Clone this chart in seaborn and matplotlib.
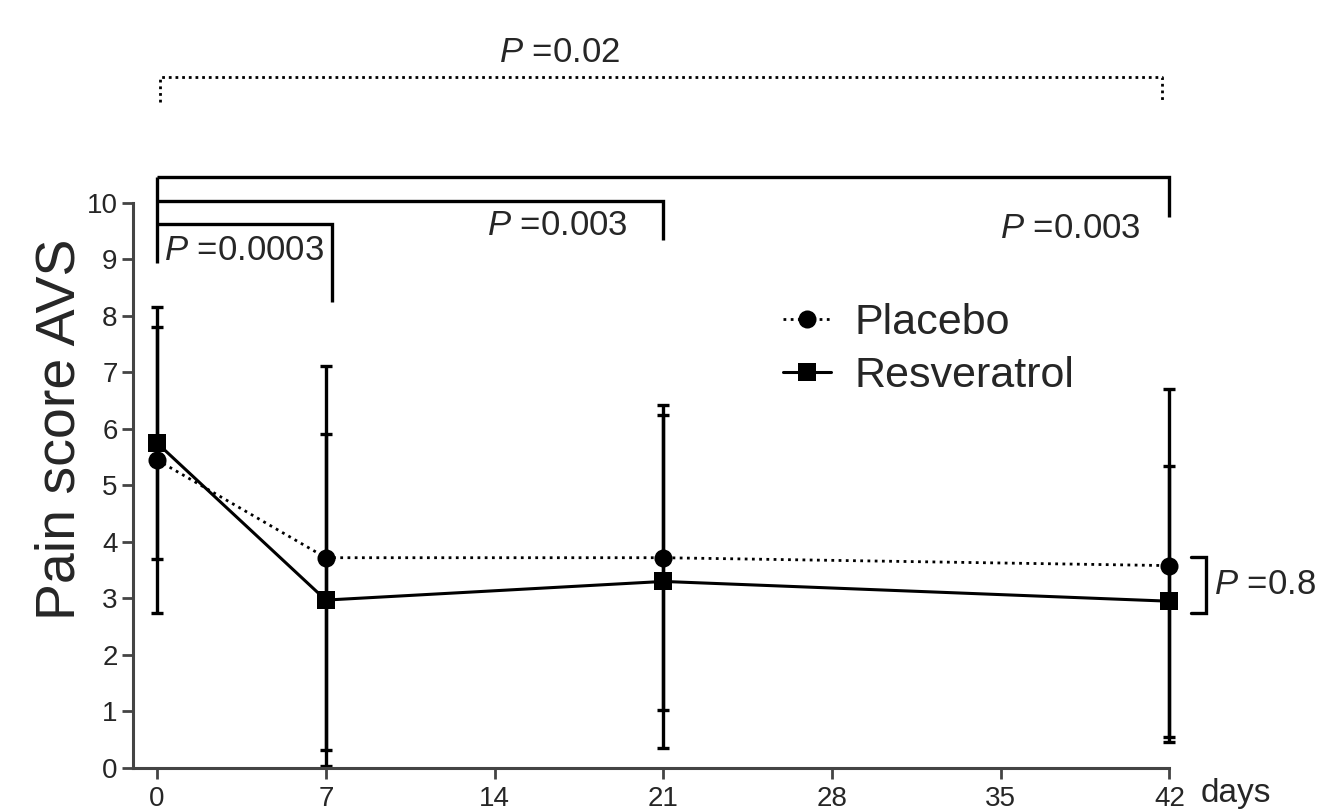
#################################################################################################
#   Required Header Files
#################################################################################################
import pandas as pd
import matplotlib
matplotlib.use("Agg")
import matplotlib.pyplot as plt
import seaborn as sns

#################################################################################################
#   Data
#################################################################################################
days = [0, 7, 21, 42]
groups = ["Placebo", "Resveratrol"]

placebo_mean = [5.45, 3.72, 3.72, 3.58]
placebo_sd = [2.70, 3.40, 2.70, 3.13]

resveratrol_mean = [5.75, 2.97, 3.30, 2.95]
resveratrol_sd = [2.05, 2.94, 2.95, 2.40]

x_ticks = [0, 7, 14, 21, 28, 35, 42]
y_ticks = [0, 1, 2, 3, 4, 5, 6, 7, 8, 9, 10]

# comparisons drawn as brackets above the plot: (start day, end day, label)
day_brackets = [(0, 7, "0.0003"), (0, 21, "0.003"), (0, 42, "0.003")]
overall_label = "0.02"
end_label = "0.8"


#################################################################################################
#   Entry Point Function
#################################################################################################
def main():
    sns.set_theme(style="ticks")
    plt.rcParams["font.family"] = ["Liberation Sans", "DejaVu Sans"]
    plt.rcParams["mathtext.fontset"] = "custom"
    plt.rcParams["mathtext.rm"] = "Liberation Sans"
    plt.rcParams["mathtext.it"] = "Liberation Sans:italic"

    df = pd.DataFrame({
        "day": days * 2,
        "score": placebo_mean + resveratrol_mean,
        "sd": placebo_sd + resveratrol_sd,
        "group": [groups[0]] * len(days) + [groups[1]] * len(days),
    })

    fig = plt.figure(figsize=(13.17, 8.10), dpi=100)
    ax = fig.add_axes([0.101, 0.052, 0.787, 0.6975])

    ink = "black"

    #############################################################################################
    #   Error bars (SD) first, then the means on top
    #############################################################################################
    for g in groups:
        sub = df[df["group"] == g]
        eb = ax.errorbar(sub["day"], sub["score"], yerr=sub["sd"], fmt="none",
                         ecolor=ink, elinewidth=2.4, capsize=4, capthick=2.4, zorder=2)
        for art in eb.lines[1] + eb.lines[2]:
            art.set_clip_on(False)

    sns.lineplot(data=df, x="day", y="score", style="group", ax=ax,
                 markers={"Placebo": "o", "Resveratrol": "s"},
                 dashes={"Placebo": (1, 1.6), "Resveratrol": ""},
                 color=ink, markersize=13, markeredgewidth=0, linewidth=2.0,
                 zorder=3, legend=False)
    for ln in ax.lines:
        ln.set_clip_on(False)
    ax.lines[-1].set_linewidth(2.2)

    #############################################################################################
    #   Axes cosmetics (Prism look)
    #############################################################################################
    ax.set_xlim(-1, 42)
    ax.set_ylim(0, 10)
    ax.set_xticks(x_ticks)
    ax.set_yticks(y_ticks)
    ax.tick_params(axis="both", direction="out", length=8, width=2, color="#444444",
                   labelsize=20, pad=3)
    ax.tick_params(axis="x", labelsize=20, pad=5)
    for s in ["top", "right"]:
        ax.spines[s].set_visible(False)
    for s in ["left", "bottom"]:
        ax.spines[s].set_linewidth(2.2)
        ax.spines[s].set_color("#444444")
    ax.set_xlabel("")
    ax.set_ylabel("Pain score AVS", fontsize=40)
    ax.yaxis.set_label_coords(-0.045, 0.6)

    ax.text(43.3, -0.45, "days", fontsize=24, va="center", ha="left", clip_on=False)

    #############################################################################################
    #   Legend
    #############################################################################################
    h1, = ax.plot([], [], color=ink, ls=(0, (1, 1.6)), lw=2, marker="o", ms=13, mew=0)
    h2, = ax.plot([], [], color=ink, ls="-", lw=2.2, marker="s", ms=13, mew=0)
    ax.legend([h1, h2], groups, loc="center left", bbox_to_anchor=(0.59, 0.74),
              frameon=False, fontsize=31, handlelength=1.1, handletextpad=0.55,
              labelspacing=0.3)

    #############################################################################################
    #   Significance brackets
    #############################################################################################
    blw = 2.4
    tops = [9.63, 10.03, 10.46]
    bottoms = [8.25, 9.34, 9.75]
    ends = [7.25, 21, 42]
    for (d0, d1, lab), top, bot, end in zip(day_brackets, tops, bottoms, ends):
        ax.plot([d0, end, end], [top, top, bot], color=ink, lw=blw,
                clip_on=False, solid_capstyle="butt", solid_joinstyle="miter")
    ax.plot([0, 0], [8.94, 10.46], color=ink, lw=blw, clip_on=False,
            solid_capstyle="butt")

    ptxt = r"$\mathit{P}$ ="
    fs = 25
    ax.text(0.3, 9.15, ptxt + day_brackets[0][2], fontsize=fs, ha="left", va="center",
            clip_on=False)
    ax.text(16.6, 9.6, ptxt + day_brackets[1][2], fontsize=fs, ha="center", va="center",
            clip_on=False)
    ax.text(37.9, 9.55, ptxt + day_brackets[2][2], fontsize=fs, ha="center", va="center",
            clip_on=False)

    # overall dotted bracket
    ax.plot([0.1, 0.1, 41.7, 41.7], [11.79, 12.23, 12.23, 11.79], color=ink, lw=2,
            ls=(0, (1, 1.4)), clip_on=False)
    ax.text(16.7, 12.67, ptxt + overall_label, fontsize=fs, ha="center", va="center",
            clip_on=False)

    # bracket at day 42 between groups
    ax.plot([42.9, 43.5, 43.5, 42.9], [3.73, 3.73, 2.74, 2.74], color=ink, lw=blw,
            clip_on=False, solid_joinstyle="miter")
    ax.text(43.85, 3.25, ptxt + end_label, fontsize=fs, ha="left", va="center",
            clip_on=False)

    fig.savefig("out.png", dpi=100)
    print("Figure saved as out.png")


#################################################################################################
#   Starter
#################################################################################################
if __name__ == "__main__":
    main()
